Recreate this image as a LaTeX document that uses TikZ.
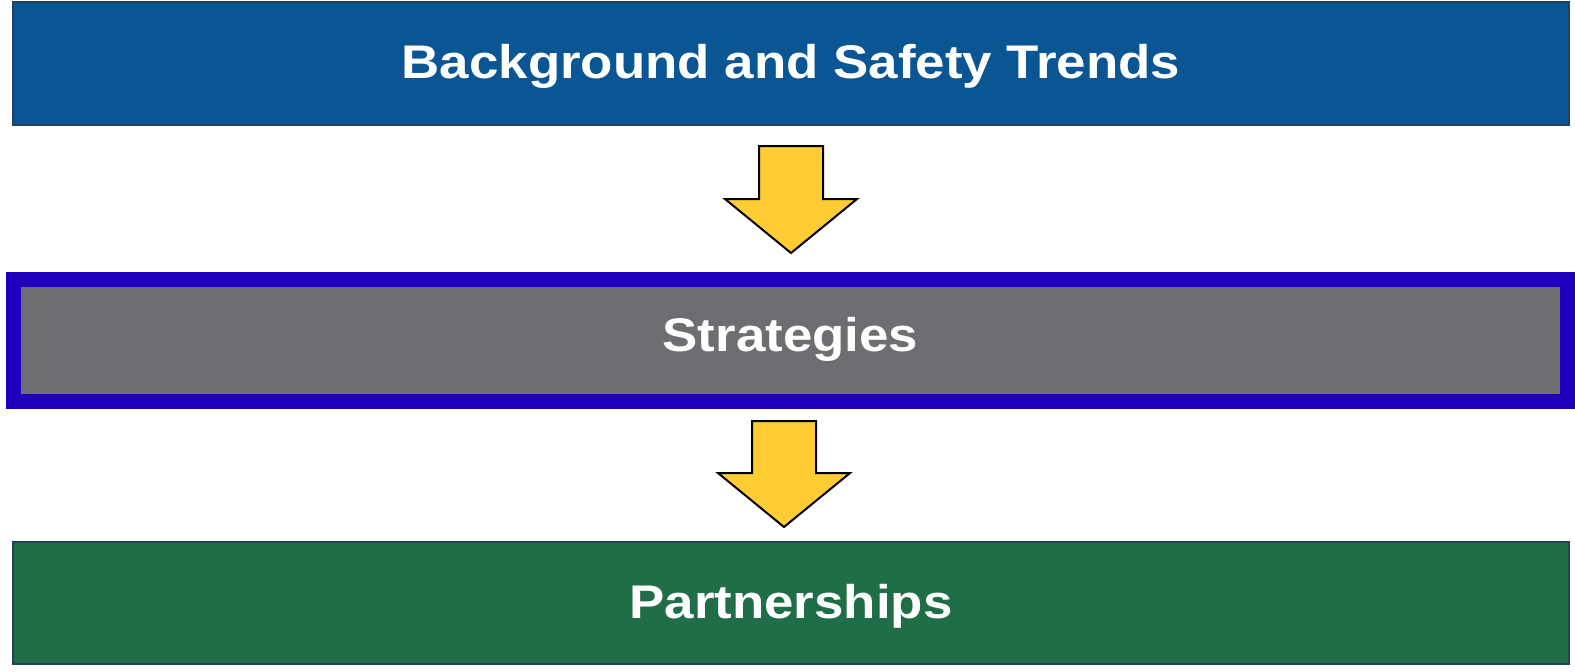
\documentclass[tikz,border=0pt]{standalone}
\usepackage{fontspec}
\setmainfont[FakeStretch=1.12]{Liberation Sans}
\usetikzlibrary{calc}
\definecolor{trendblue}{HTML}{0A5695}
\definecolor{stratgray}{HTML}{6E6E72}
\definecolor{frameblue}{HTML}{2000BF}
\definecolor{partgreen}{HTML}{1F6E47}
\definecolor{edgedark}{HTML}{23405E}
\definecolor{arrowgold}{HTML}{FFCC33}
\newcommand{\blockdown}[2]{%
  \draw[arrowbox] let \p1=(#1), \p2=(#2) in
    (\x2-16pt,\y1) -- (\x2+16pt,\y1) -- (\x2+16pt,\y2+27pt) -- (\x2+33pt,\y2+27pt)
    -- (\x2,\y2) -- (\x2-33pt,\y2+27pt) -- (\x2-16pt,\y2+27pt) -- cycle;}
\begin{document}
\begin{tikzpicture}[x=0.5pt,y=-0.5pt,
  every node/.style={font=\fontsize{23.6}{28}\selectfont\bfseries, text=white, inner sep=0pt, text height=16.5pt},
  box/.style={draw=edgedark, line width=1pt, minimum width=778pt},
  arrowbox/.style={draw=black, fill=arrowgold, line width=1pt, line join=miter}]
  \useasboundingbox (0,0) rectangle (1575,671);
  % Boxes
  \node[box, fill=trendblue, minimum height=61.5pt, text depth=1.5pt] (trends) at (791,63.5) {Background and Safety Trends};
  \node[draw=frameblue, line width=7.5pt, fill=stratgray, minimum width=777pt, minimum height=61pt, text depth=6pt] (strat) at (790.5,340.5) {Strategies};
  \node[box, fill=partgreen, minimum height=61pt, text depth=1.5pt] (partner) at (791,603) {Partnerships};
  % Arrows
  \coordinate (top1) at (791,146);
  \coordinate (tip1) at (791,253);
  \coordinate (top2) at (784,421);
  \coordinate (tip2) at (784,527);
  \blockdown{top1}{tip1}
  \blockdown{top2}{tip2}
\end{tikzpicture}
\end{document}
